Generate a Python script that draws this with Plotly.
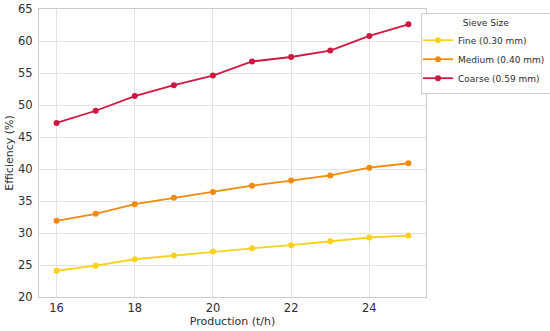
import plotly.graph_objects as go

production = [16, 17, 18, 19, 20, 21, 22, 23, 24, 25]
fine = [24.1, 24.9, 25.9, 26.5, 27.1, 27.6, 28.1, 28.7, 29.3, 29.6]
medium = [31.9, 33.0, 34.5, 35.5, 36.4, 37.4, 38.2, 39.0, 40.2, 40.9]
coarse = [47.2, 49.1, 51.4, 53.1, 54.6, 56.8, 57.5, 58.5, 60.8, 62.6]
names = ["Fine (0.30 mm)", "Medium (0.40 mm)", "Coarse (0.59 mm)"]
colors = ["#F9D11A", "#F28A0F", "#D0173F"]

fig = go.Figure()
for name, vals, c in zip(names, [fine, medium, coarse], colors):
    fig.add_trace(go.Scatter(x=production, y=vals, name=name, mode="lines+markers",
                             line=dict(color=c, width=1.8),
                             marker=dict(color=c, size=6)))

axis_common = dict(showgrid=True, gridcolor="#E3E3E3", gridwidth=1,
                   showline=True, linecolor="#CCCCCC", linewidth=1, mirror=True,
                   zeroline=False, ticks="", tickfont=dict(size=11.5, color="#2E2E2E"),
                   title_font=dict(size=11, color="#2E2E2E"))

fig.update_layout(
    width=550, height=331,
    margin=dict(l=39, r=124, t=9, b=34, autoexpand=False),
    paper_bgcolor="white", plot_bgcolor="white",
    font=dict(family="DejaVu Sans", color="#2E2E2E"),
    xaxis=dict(range=[15.55, 25.45], tickvals=[16, 18, 20, 22, 24],
               title=dict(text="Production (t/h)", standoff=3), **axis_common),
    yaxis=dict(range=[20, 65], dtick=5, ticklabelstandoff=3,
               title=dict(text="Efficiency (%)", standoff=2), **axis_common),
    legend=dict(x=(421 - 39) / 387, y=1 - 4 / 288, xanchor="left", yanchor="top",
                bordercolor="#CCCCCC", borderwidth=1, bgcolor="white",
                font=dict(size=9, color="#2E2E2E"),
                title=dict(text="Sieve Size", side="top center", font=dict(size=9)),
                tracegroupgap=0, itemwidth=30, indentation=-4),
)
fig.write_html("out.html", config={"displayModeBar": False},
               post_script="document.body.style.margin='0px';")
